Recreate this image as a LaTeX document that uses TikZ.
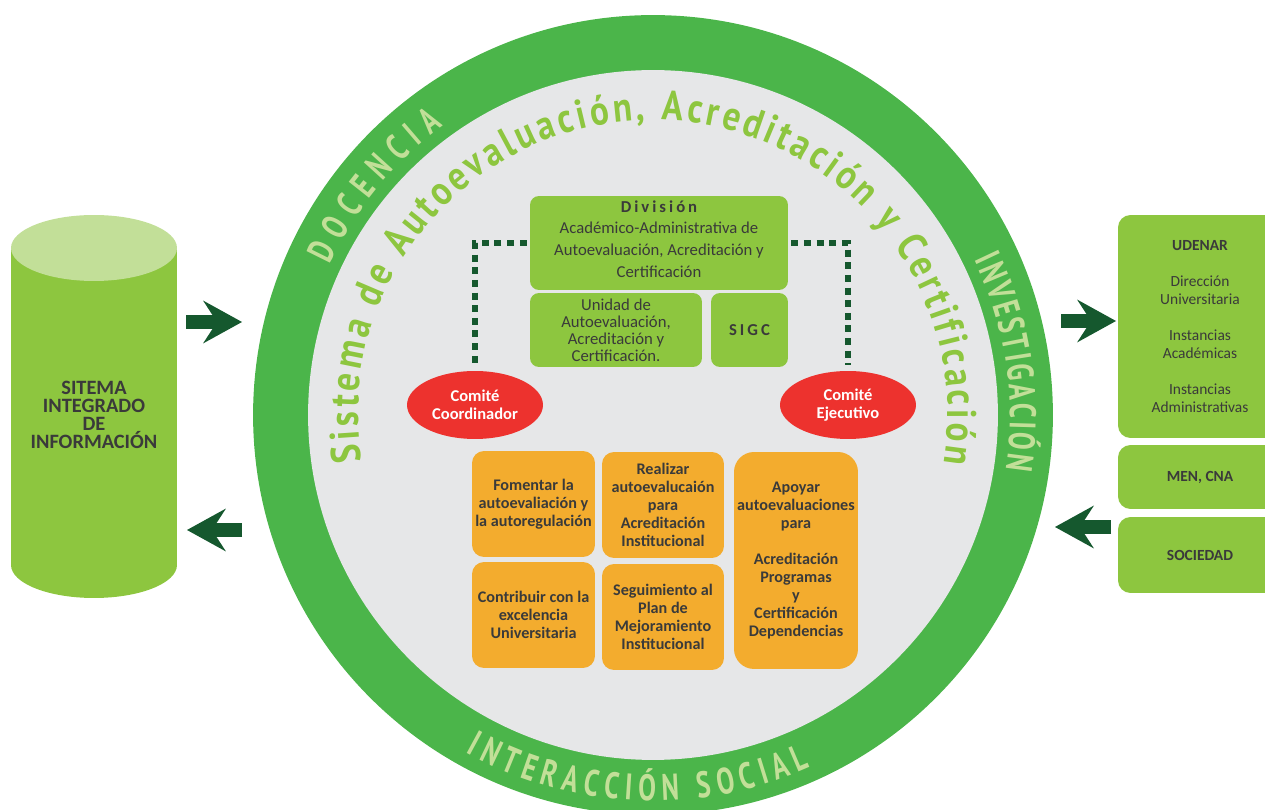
\documentclass[tikz,border=0pt]{standalone}
\usepackage{fontspec}
\setmainfont{Carlito}
\newfontfamily\arcfont[FakeStretch=0.85]{PT Sans}
\newfontfamily\ringfont[FakeStretch=0.72]{PT Sans}
\newfontfamily\spacedfont[LetterSpace=18]{Carlito}
\usetikzlibrary{arrows.meta,decorations.text,shapes.geometric}

\definecolor{ringgreen}{RGB}{75,181,74}
\definecolor{discgray}{RGB}{230,231,232}
\definecolor{leafgreen}{RGB}{141,198,63}
\definecolor{palegreen}{RGB}{194,223,152}
\definecolor{pinegreen}{RGB}{21,88,46}
\definecolor{comitered}{RGB}{237,50,46}
\definecolor{boxorange}{RGB}{243,172,46}
\definecolor{inktext}{RGB}{58,58,58}

\tikzset{
  greenbox/.style={fill=leafgreen, rounded corners=0.18cm, align=center,
    text=inktext, inner sep=0pt, font=\fontsize{9.5}{12.4}\selectfont},
  orangebox/.style={fill=boxorange, rounded corners=0.24cm, align=center,
    text=inktext, inner sep=0pt, font=\bfseries\fontsize{9.2}{10.2}\selectfont},
  comite/.style={ellipse, fill=comitered, text=white, align=center,
    minimum width=2.72cm, minimum height=1.36cm, inner sep=0pt,
    font=\bfseries\fontsize{9.4}{10.2}\selectfont},
  sidebox/.style={fill=leafgreen, rounded corners=0.25cm, align=center,
    text=inktext, minimum width=3.28cm, inner sep=0pt,
    font=\fontsize{8.8}{10.2}\selectfont},
  bigarrow/.style={pinegreen, line width=0.27cm,
    -{Stealth[length=0.78cm, width=0.86cm, inset=0.28cm, line width=0pt]}},
  dashline/.style={pinegreen, line width=3.2pt, dash pattern=on 4pt off 3.2pt},
  ringtext/.style={decorate, decoration={text along path, text align={fit to path},
    text={|\ringfont\bfseries\fontsize{21}{21}\selectfont\color{palegreen}|#1}}},
}

\begin{document}
\begin{tikzpicture}[x=0.02cm, y=-0.02cm]
    \clip (0,0) rectangle (1265,810);

    % cylinder on the left
    \fill[leafgreen] (11,248) rectangle (177,565);
    \fill[leafgreen] (94,565) ellipse [x radius=1.66cm, y radius=0.66cm];
    \fill[palegreen] (94,248) ellipse [x radius=1.66cm, y radius=0.66cm];
    \node[text=inktext, align=center, font=\bfseries\fontsize{11.6}{10.2}\selectfont] (sid) at (94,415)
        {SITEMA\\INTEGRADO\\DE\\INFORMACIÓN};

    % ring
    \coordinate (ctr) at (653,415);
    \fill[ringgreen] (ctr) circle [radius=8cm];
    \fill[discgray] (ctr) circle [radius=6.9cm];
    \path[ringtext=DOCENCIA] (ctr) ++(155:7.14cm) arc[start angle=155, end angle=126, radius=7.14cm];
    \path[ringtext=INVESTIGACIÓN] (ctr) ++(25.8:7.14cm) arc[start angle=25.8, end angle=-8.8, radius=7.14cm];
    \path[ringtext=INTERACCIÓN SOCIAL] (ctr) ++(-119:7.72cm) arc[start angle=-119, end angle=-66, radius=7.72cm];
    \path[decorate, decoration={text along path, text align={fit to path},
        text={|\arcfont\bfseries\fontsize{23.5}{23.5}\selectfont\color{leafgreen}|Sistema de Autoevaluación, Acreditación y Certificación}}]
        (ctr) ++(189:5.9cm) arc[start angle=189, end angle=-9.5, radius=5.9cm];

    % division
    \node[greenbox, minimum width=5.16cm, minimum height=1.88cm] (div) at (659,243)
        {{\spacedfont\bfseries División}\\Académico-Administrativa de\\Autoevaluación, Acreditación y\\Certificación\vphantom{g}\\[-7.8pt]};
    \node[greenbox, minimum width=3.44cm, minimum height=1.48cm, font=\fontsize{9.5}{9.7}\selectfont] (unidad) at (616,330)
        {Unidad de\\Autoevaluación,\\Acreditación y\\Certificación.};
    \node[greenbox, minimum width=1.54cm, minimum height=1.48cm] (sigc) at (749.5,330) {\spacedfont\bfseries SIGC};

    % comites
    \node[comite] (coord) at (475,405) {Comité\\Coordinador};
    \node[comite] (ejec) at (848,405) {Comité\\Ejecutivo};
    \draw[dashline, shorten <=0.06cm, shorten >=0.12cm] (div.west) -| (coord.north);
    \draw[dashline, shorten <=0.06cm, shorten >=0.12cm] (div.east) -| (ejec.north);

    % objectives
    \node[orangebox, minimum width=2.46cm, minimum height=2.12cm] (fomentar) at (533.5,504)
        {Fomentar la\\autoevaliación y\\la autoregulación};
    \node[orangebox, minimum width=2.44cm, minimum height=2.12cm] (realizar) at (663,505)
        {Realizar\\autoevalucaión\\para\\Acreditación\\Institucional};
    \node[orangebox, minimum width=2.48cm, minimum height=4.34cm, rounded corners=0.4cm] (apoyar) at (796,560.5)
        {Apoyar\\autoevaluaciones\\para\\[10.2pt]Acreditación\\Programas\\y\\Certificación\\Dependencias};
    \node[orangebox, minimum width=2.46cm, minimum height=2.12cm] (contribuir) at (533.5,615)
        {Contribuir con la\\excelencia\\Universitaria};
    \node[orangebox, minimum width=2.44cm, minimum height=2.12cm] (seguimiento) at (663,617)
        {Seguimiento al\\Plan de\\Mejoramiento\\Institucional};

    % right panel
    \node[sidebox, minimum height=4.46cm] (udenar) at (1200,326.5)
        {\textbf{UDENAR}\\[10.2pt]Dirección\\Universitaria\\[10.2pt]Instancias\\Académicas\\[10.2pt]Instancias\\Administrativas};
    \node[sidebox, minimum height=1.28cm, font=\bfseries\fontsize{8.8}{10.2}\selectfont] (mencna) at (1200,477) {MEN, CNA};
    \node[sidebox, minimum height=1.52cm, font=\bfseries\fontsize{8.8}{10.2}\selectfont] (sociedad) at (1200,555) {SOCIEDAD};

    % arrows
    \coordinate (sidout) at (186,322);
    \coordinate (ringin) at (242,322);
    \coordinate (ringout) at (242,530);
    \coordinate (sidin) at (187,530);
    \coordinate (ringtoR) at (1061,321);
    \coordinate (udenarin) at (1116,321);
    \coordinate (sociedadout) at (1111,527);
    \coordinate (ringfromR) at (1055,527);
    \draw[bigarrow] (sidout) -- (ringin);
    \draw[bigarrow] (ringout) -- (sidin);
    \draw[bigarrow] (ringtoR) -- (udenarin);
    \draw[bigarrow] (sociedadout) -- (ringfromR);
\end{tikzpicture}
\end{document}
